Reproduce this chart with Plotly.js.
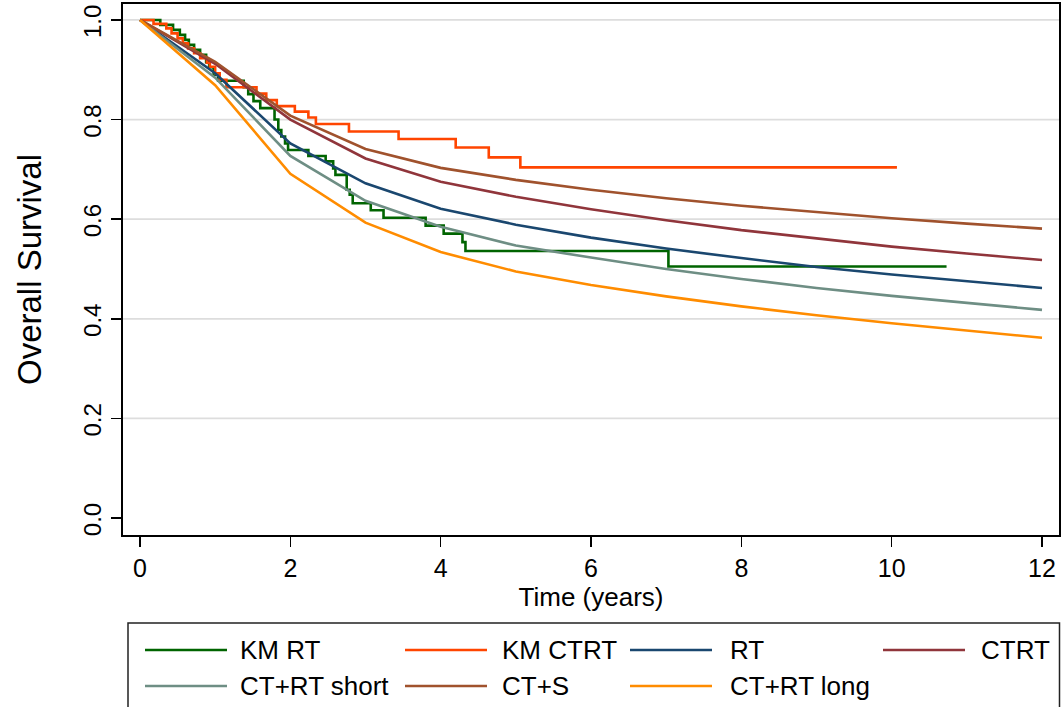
<!DOCTYPE html>
<html><head><meta charset="utf-8">
<script src="https://cdn.plot.ly/plotly-3.0.1.min.js"></script>
<style>html,body{margin:0;padding:0;background:#fff}#chart{width:1061px;height:707px}</style>
</head><body><div id="chart"></div>
<script>
// ---- data ----
const years = [0,1,2,3,4,5,6,7,8,9,10,11,12];
const rtModel        = [1.0,0.893,0.752,0.672,0.621,0.589,0.563,0.541,0.522,0.504,0.489,0.475,0.462];
const ctrtModel      = [1.0,0.912,0.800,0.722,0.675,0.645,0.620,0.598,0.578,0.561,0.545,0.531,0.518];
const ctrtShortModel = [1.0,0.884,0.727,0.637,0.585,0.547,0.523,0.500,0.480,0.462,0.446,0.432,0.418];
const ctsModel       = [1.0,0.916,0.808,0.741,0.703,0.679,0.659,0.642,0.627,0.614,0.602,0.591,0.581];
const ctrtLongModel  = [1.0,0.869,0.691,0.593,0.534,0.495,0.468,0.445,0.425,0.407,0.391,0.376,0.362];

const kmRtTime = [0,0.27,0.44,0.53,0.60,0.65,0.72,0.80,0.88,0.92,0.98,1.04,1.38,1.44,1.51,1.60,1.79,1.84,1.88,1.93,1.97,2.24,2.47,2.57,2.60,2.75,2.79,2.83,3.07,3.24,3.80,4.04,4.29,4.33,7.03,10.73];
const kmRtSurv = [1.0,0.990,0.980,0.970,0.960,0.950,0.940,0.930,0.915,0.905,0.890,0.878,0.865,0.851,0.837,0.823,0.800,0.779,0.766,0.752,0.739,0.727,0.716,0.702,0.689,0.659,0.649,0.632,0.618,0.603,0.587,0.571,0.554,0.536,0.505,0.505];

const kmCtrtTime = [0,0.18,0.35,0.42,0.50,0.57,0.64,0.72,0.80,0.89,0.93,1.00,1.06,1.15,1.55,1.68,1.82,2.06,2.24,2.34,2.78,3.44,4.20,4.64,5.06,10.07];
const kmCtrtSurv = [1.0,0.992,0.983,0.973,0.963,0.953,0.943,0.933,0.923,0.914,0.906,0.893,0.880,0.865,0.852,0.839,0.827,0.816,0.804,0.791,0.776,0.761,0.744,0.724,0.704,0.704];

const seriesNames  = ['KM RT','KM CTRT','RT','CTRT','CT+RT short','CT+S','CT+RT long'];
const seriesColors = ['#006400','#ff4500','#1a476f','#90353b','#6e8e84','#a0522d','#ff8c00'];

const xTickVals = [0,2,4,6,8,10,12];
const yTickVals = [0,0.2,0.4,0.6,0.8,1.0];
const yTickText = ['0.0','0.2','0.4','0.6','0.8','1.0'];
const yGridVals = [0.2,0.4,0.6,0.8,1.0];

const xTitle = 'Time (years)';
const yTitle = 'Overall Survival';

// ---- build ----
const FONT = 'Liberation Sans, Arial, Helvetica, sans-serif';
const M = {l:123, r:2, t:4, b:172};
const W = 1061, H = 707;
const pw = W - M.l - M.r, ph = H - M.t - M.b;
const px = x => (x - M.l) / pw;
const py = y => (H - M.b - y) / ph;

const xs = [kmRtTime, kmCtrtTime, years, years, years, years, years];
const ys = [kmRtSurv, kmCtrtSurv, rtModel, ctrtModel, ctrtShortModel, ctsModel, ctrtLongModel];

const traces = seriesNames.map((n,i) => ({
  x: xs[i], y: ys[i], name: n, type: 'scatter', mode: 'lines',
  line: {color: seriesColors[i], width: 2.6, shape: i < 2 ? 'hv' : 'linear'},
  showlegend: false, hoverinfo: 'skip'
}));

const shapes = yGridVals.map(v => ({
  type:'line', xref:'paper', yref:'y', x0:0, x1:1, y0:v, y1:v,
  line:{color:'#dddddd', width:1.8}, layer:'below'
}));

// legend box
shapes.push({type:'rect', xref:'paper', yref:'paper', x0:px(128), x1:px(1059.5), y0:py(723), y1:py(623),
  line:{color:'#222', width:1.5}, fillcolor:'rgba(0,0,0,0)'});

const colLine = [145, 405, 630, 883];
const colText = [238, 500, 728, 979];
const rowY = [650, 686];
const annotations = [];
seriesNames.forEach((n,i) => {
  const c = i % 4, r = Math.floor(i / 4);
  shapes.push({type:'line', xref:'paper', yref:'paper', x0:px(colLine[c]), x1:px(colLine[c]+82),
    y0:py(rowY[r]), y1:py(rowY[r]), line:{color:seriesColors[i], width:2.6}});
  annotations.push({xref:'paper', yref:'paper', x:px(colText[c]), y:py(rowY[r]), text:n,
    showarrow:false, xanchor:'left', yanchor:'middle', font:{family:FONT, size:26, color:'#000'}});
});

const layout = {
  width: W, height: H, margin: M,
  paper_bgcolor:'#fff', plot_bgcolor:'#fff',
  font:{family:FONT, color:'#000'},
  xaxis:{range:[-0.226,12.226], tickvals:xTickVals, ticks:'outside', ticklen:10, tickwidth:1.5, tickcolor:'#000',
    showline:true, mirror:true, linecolor:'#000', linewidth:2, showgrid:false, zeroline:false,
    tickfont:{size:25, family:FONT}, title:{text:xTitle, font:{size:26, family:FONT}, standoff:0}},
  yaxis:{range:[-0.034,1.032], tickvals:yTickVals, ticktext:yTickText, tickangle:-90, ticks:'outside', ticklen:10, tickwidth:1.5, tickcolor:'#000',
    ticklabeloverflow:'allow', ticklabelshift:5,
    showline:true, mirror:true, linecolor:'#000', linewidth:2, showgrid:false, zeroline:false,
    tickfont:{size:24, family:FONT}, title:{text:yTitle, font:{size:33, family:FONT}, standoff:28}},
  shapes, annotations, showlegend:false
};

Plotly.newPlot('chart', traces, layout, {staticPlot:true, displayModeBar:false});
</script></body></html>
